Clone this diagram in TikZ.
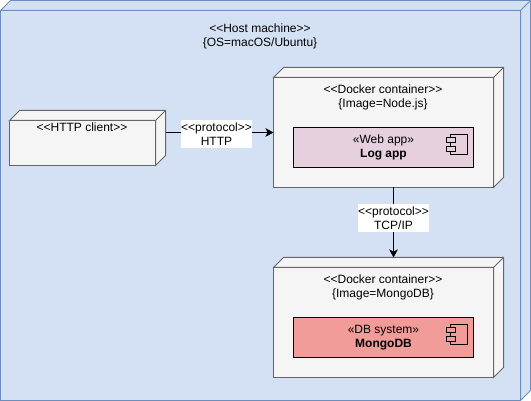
\documentclass[tikz,border=0pt]{standalone}
\usepackage{fontspec}
\setmainfont{Liberation Sans}[Ligatures=ResetAll]
\usepackage{xcolor}
\usetikzlibrary{arrows.meta}

\definecolor{hostblue}{HTML}{D4E1F5}
\definecolor{hostline}{HTML}{6C8EBF}
\definecolor{boxgray}{HTML}{F5F5F5}
\definecolor{boxline}{HTML}{666666}
\definecolor{webpink}{HTML}{E6D0DE}
\definecolor{dbred}{HTML}{F19C99}

\tikzset{
    hostface/.style={draw=hostline, fill=hostblue, line width=1pt},
    boxface/.style={draw=boxline, fill=boxgray, line width=1pt},
    frontnode/.style={inner sep=0pt, outer sep=0pt, line join=miter},
    compnode/.style={draw=black, line width=1pt, inner sep=0pt, outer sep=0pt, minimum width=180, minimum height=40, align=center},
    textnode/.style={inner sep=0pt, align=center},
    linklabel/.style={fill=white, inner sep=0pt, minimum width=71, minimum height=28, align=center},
    link/.style={-{Stealth[length=8pt,width=8.5pt,inset=2pt]}, line width=1pt, black},
    every node/.style={font=\fontsize{12}{14}\selectfont, text=black}
}

\begin{document}
\begin{tikzpicture}[x=1pt, y=-1pt]
    \useasboundingbox (0,0) rectangle (531,401);

    % host machine
    \draw[hostface] (0.5,10.5) -- (10.5,0.5) -- (530.5,0.5) -- (530.5,390.5) -- (520.5,400.5) -- (520.5,10.5) -- cycle;
    \draw[hostface] (520.5,10.5) -- (530.5,0.5);
    \node[hostface, frontnode, minimum width=520, minimum height=390] (host) at (260.5,205.5) {};
    \node[textnode] (hostlabel) at (260,36) {<{}<Host machine>{}>\\\{OS=macOS/Ubuntu\}};

    % http client
    \draw[boxface] (9.5,120.5) -- (19.5,110.5) -- (165.5,110.5) -- (165.5,155.5) -- (155.5,165.5) -- (155.5,120.5) -- cycle;
    \draw[boxface] (155.5,120.5) -- (165.5,110.5);
    \node[boxface, frontnode, minimum width=146, minimum height=45] (client) at (82.5,143) {};
    \node[textnode] (clientlabel) at (82,127.5) {<{}<HTTP client>{}>};
    \coordinate (clientport) at (165.5,132.5);

    % docker container, node.js
    \draw[boxface] (273.5,77.5) -- (283.5,67.5) -- (503.5,67.5) -- (503.5,177.5) -- (493.5,187.5) -- (493.5,77.5) -- cycle;
    \draw[boxface] (493.5,77.5) -- (503.5,67.5);
    \node[boxface, frontnode, minimum width=220, minimum height=110] (nodebox) at (383.5,132.5) {};
    \node[textnode] (nodelabel) at (383,97.5) {<{}<Docker container>{}>\\\{Image=Node.js\}};
    \coordinate (nodeport) at (393.5,187.5);

    % docker container, mongodb
    \draw[boxface] (273.5,267.5) -- (283.5,257.5) -- (503.5,257.5) -- (503.5,367.5) -- (493.5,377.5) -- (493.5,267.5) -- cycle;
    \draw[boxface] (493.5,267.5) -- (503.5,257.5);
    \node[boxface, frontnode, minimum width=220, minimum height=110] (mongobox) at (383.5,322.5) {};
    \node[textnode] (mongolabel) at (383,287.5) {<{}<Docker container>{}>\\\{Image=MongoDB\}};
    \coordinate (mongoport) at (393.5,257.5);

    % components
    \node[compnode, fill=webpink] (webapp) at (383.5,147.5) {«Web app»\\\textbf{Log app}};
    \node[compnode, fill=dbred] (mongodb) at (383.5,337.5) {«DB system»\\\textbf{MongoDB}};

    % component icons
    \draw[line width=1pt] (450.5,134.5) rectangle (467,154.5);
    \draw[line width=1pt, fill=webpink] (446.5,137.5) rectangle (455,142.5);
    \draw[line width=1pt, fill=webpink] (446.5,146.5) rectangle (455,151.5);
    \draw[line width=1pt] (450.5,324.5) rectangle (467,344.5);
    \draw[line width=1pt, fill=dbred] (446.5,327.5) rectangle (455,332.5);
    \draw[line width=1pt, fill=dbred] (446.5,336.5) rectangle (455,341.5);

    % links
    \draw[link] (clientport) -- (nodebox.west);
    \draw[link] (nodeport) -- (mongoport);
    \node[linklabel] (httplabel) at (216.5,134) {<{}<protocol>{}>\\HTTP};
    \node[linklabel] (tcplabel) at (393.5,218) {<{}<protocol>{}>\\TCP/IP};
\end{tikzpicture}
\end{document}
